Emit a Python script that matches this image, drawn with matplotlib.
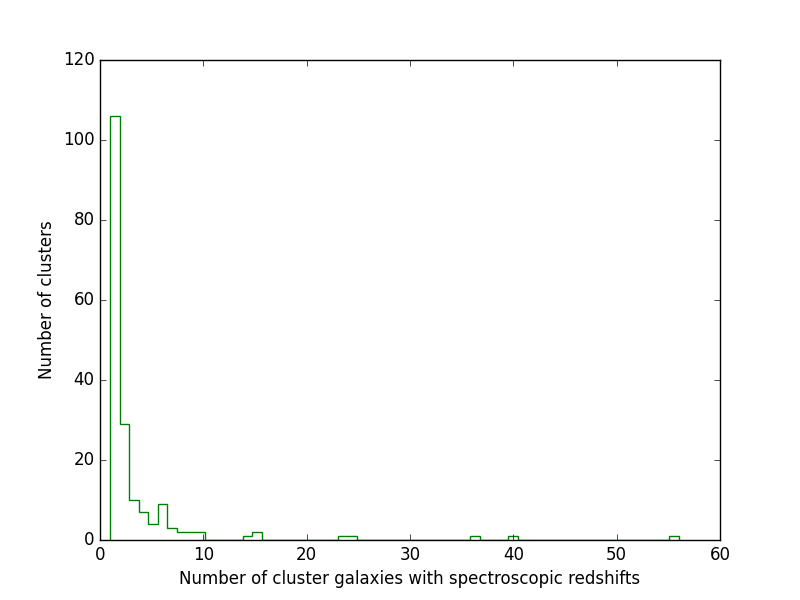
import matplotlib
matplotlib.use("Agg")
import matplotlib.pyplot as plt
import numpy as np

plt.style.use("classic")

# number of spectroscopic members per cluster (value) and how many clusters have it
values = [1, 2, 3, 4, 5, 6, 7, 8, 9, 10, 14, 15, 23, 24, 36, 40, 56]
counts = [106, 29, 10, 7, 4, 9, 3, 2, 2, 2, 1, 2, 1, 1, 1, 1, 1]

fig = plt.figure(figsize=(8, 6), dpi=100)
ax = fig.add_subplot(111)
ax.hist(values, bins=60, range=(1, 56), weights=counts, histtype="step", color="g")
ax.set_xlim(0, 60)
ax.set_ylim(0, 120)
ax.set_xlabel("Number of cluster galaxies with spectroscopic redshifts")
ax.set_ylabel("Number of clusters")
fig.savefig("out.png", dpi=100, facecolor="white")
